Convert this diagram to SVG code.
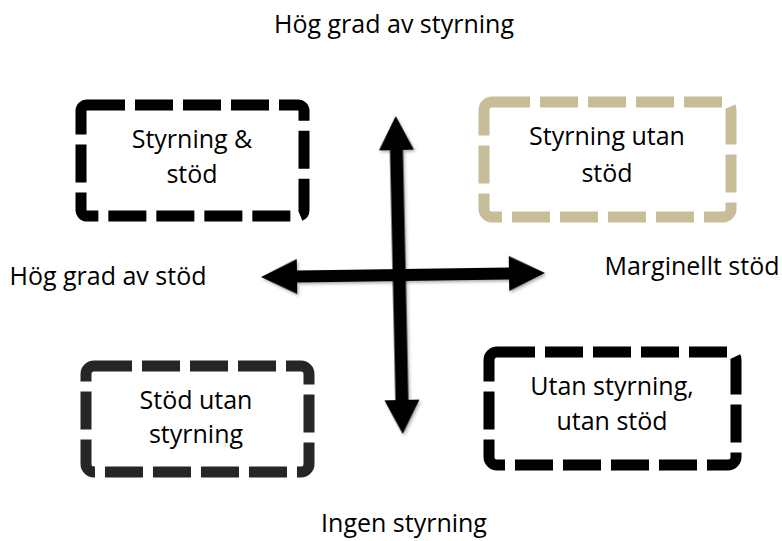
<svg xmlns="http://www.w3.org/2000/svg" width="782" height="541" viewBox="0 0 782 541">
<defs>
<filter id="sh" x="-20%" y="-20%" width="140%" height="140%">
<feDropShadow dx="1.5" dy="2" stdDeviation="1.5" flood-color="#000" flood-opacity="0.3"/>
</filter>
</defs>
<style>
text{font-family:"Open Sans","Noto Sans","Liberation Sans",sans-serif;font-size:25px;fill:#000;text-anchor:middle}
.box{fill:none;stroke-width:11;stroke-dasharray:38 10;stroke-linecap:butt;stroke-linejoin:round}
.arrow{fill:#000;filter:url(#sh)}
</style>
<rect width="782" height="541" fill="#fff"/>
<g id="axis-labels">
<text x="394" y="33">Hög grad av styrning</text>
<text x="108" y="285">Hög grad av stöd</text>
<text x="692" y="275">Marginellt stöd</text>
<text x="404" y="532">Ingen styrning</text>
</g>
<g id="connectors">
<path class="arrow" transform="translate(399.2,275) rotate(-1.26)" d="M0,-159 L17.5,-125 L6.5,-125 L6.5,125 L17.5,125 L0,159 L-17.5,125 L-6.5,125 L-6.5,-125 L-17.5,-125 Z"/>
<path class="arrow" transform="translate(403,275) rotate(-0.81)" d="M-142,0 L-106,-17.5 L-106,-6 L106,-6 L106,-17.5 L142,0 L106,17.5 L106,6 L-106,6 L-106,17.5 Z"/>
</g>
<g id="node-styrning-stod">
<rect class="box" x="81" y="105" width="223" height="111" rx="6" stroke="#000"/>
<text x="192" y="148">Styrning &amp;</text>
<text x="192" y="183">stöd</text>
</g>
<g id="node-styrning-utan-stod">
<rect class="box" x="484" y="102" width="247" height="115" rx="8" stroke="#C7BE99"/>
<text x="607" y="145">Styrning utan</text>
<text x="607" y="182">stöd</text>
</g>
<g id="node-stod-utan-styrning">
<rect class="box" x="86" y="366" width="223" height="106" rx="8" stroke="#262626"/>
<text x="196" y="409">Stöd utan</text>
<text x="196" y="443">styrning</text>
</g>
<g id="node-utan-styrning-utan-stod">
<rect class="box" x="489" y="352" width="247" height="113" rx="8" stroke="#000"/>
<text x="612" y="395">Utan styrning,</text>
<text x="612" y="430">utan stöd</text>
</g>
</svg>
